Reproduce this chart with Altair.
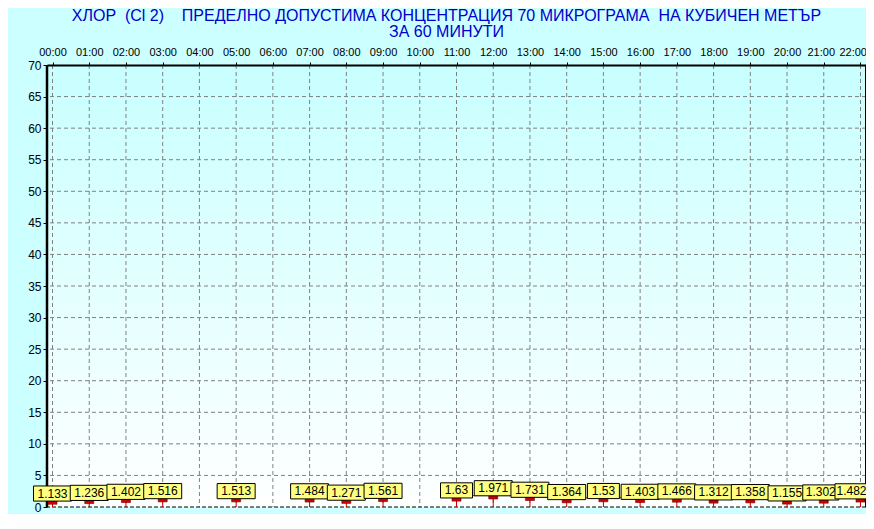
import altair as alt
import pandas as pd

hours = ["00:00", "01:00", "02:00", "03:00", "04:00", "05:00", "06:00", "07:00",
         "08:00", "09:00", "10:00", "11:00", "12:00", "13:00", "14:00", "15:00",
         "16:00", "17:00", "18:00", "19:00", "20:00", "21:00", "22:00"]
values = [1.133, 1.236, 1.402, 1.516, None, 1.513, None, 1.484,
          1.271, 1.561, None, 1.63, 1.971, 1.731, 1.364, 1.53,
          1.403, 1.466, 1.312, 1.358, 1.155, 1.302, 1.482]
yticks = [0, 5, 10, 15, 20, 25, 30, 35, 40, 45, 50, 55, 60, 65, 70]
title_lines = ["ХЛОР\u00a0 (Cl 2)\u00a0\u00a0\u00a0 ПРЕДЕЛНО ДОПУСТИМА КОНЦЕНТРАЦИЯ 70 МИКРОГРАМА\u00a0 НА КУБИЧЕН МЕТЪР",
               "ЗА 60 МИНУТИ"]

rows = []
seg = 0
for i, (h, v) in enumerate(zip(hours, values)):
    if v is None:
        seg += 1
        continue
    rows.append({"hour": h, "v": v, "label": str(v), "seg": seg, "n": len(str(v))})
df = pd.DataFrame(rows)
hours_df = pd.DataFrame({"hour": hours})
grid_df = pd.DataFrame({"v": [t for t in yticks if 0 < t < 70]})
zero_df = pd.DataFrame({"v": [0]})

last_hour = hours[-1]
prev_hour = hours[-2]
xscale = alt.Scale(type="point", domain=hours, padding=0.15)
yscale = alt.Scale(domain=[0, 70], nice=False, zero=True)
xaxis = alt.Axis(orient="top", labelAngle=0, labelFontSize=11, labelColor="black",
                 labelAlign={"condition": {"test": f"datum.label == '{last_hour}'", "value": "right"},
                             "value": "center"},
                 labelOffset={"condition": [{"test": f"datum.label == '{last_hour}'", "value": 6},
                                            {"test": f"datum.label == '{prev_hour}'", "value": -3}],
                              "value": 0},
                 tickSize=3, tickColor="black", domainColor="black", domainWidth=2,
                 grid=False, title=None, zindex=1, labelPadding=5, labelFont="Liberation Sans")
yaxis = alt.Axis(values=yticks, labelFontSize=12, labelColor="black", tickSize=4,
                 tickColor="black", domain=False, grid=False,
                 title=None, zindex=0, labelPadding=2, labelFont="Liberation Sans")
X = alt.X("hour:N", scale=xscale, axis=xaxis, sort=hours)
Y = alt.Y("v:Q", scale=yscale, axis=yaxis)

grad = alt.Gradient(gradient="linear",
                    stops=[alt.GradientStop(color="#C8FFFF", offset=0),
                           alt.GradientStop(color="#FFFFFF", offset=1)],
                    x1=0, x2=0, y1=0, y2=1)
bg = alt.Chart(pd.DataFrame({"a": [1]})).mark_rect(color=grad).encode(
    x=alt.value(0), x2=alt.value("width"), y=alt.value(0), y2=alt.value("height"))

vgrid = alt.Chart(hours_df).mark_rule(color="#808080", strokeDash=[4, 3], strokeWidth=1).encode(x=X)
hgrid = alt.Chart(grid_df).mark_rule(color="#808080", strokeDash=[4, 3], strokeWidth=1).encode(y=Y)
zline = alt.Chart(zero_df).mark_rule(color="black", strokeDash=[4, 2], strokeWidth=1).encode(y=Y)
rborder = alt.Chart(zero_df).mark_rule(color="black", strokeWidth=2).encode(x=alt.value("width"))
lborder = alt.Chart(zero_df).mark_rule(color="black", strokeWidth=2.5).encode(x=alt.value(0))

base = alt.Chart(df)
line = base.mark_line(color="#CC0000", strokeWidth=1).encode(x=X, y=Y, detail="seg:N")
stem = base.mark_rule(color="#CC0000", strokeWidth=1).encode(x=X, y=Y, y2=alt.datum(0))
bar = base.transform_calculate(lo="datum.v - 0.7").mark_bar(
    width=9, color="#D00000", stroke="#700000", strokeWidth=0.6).encode(
    x=X, y=alt.Y("lo:Q", scale=yscale, axis=yaxis), y2="v:Q")

box_enc = dict(x=X, y=alt.Y("b0:Q", scale=yscale, axis=yaxis), y2="b1:Q")
boxes = base.transform_calculate(b0="datum.v - 0.2", b1="datum.v + 2.2")
box_style = dict(color="#FFFF80", stroke="black", strokeWidth=1)
is_end = f"(datum.hour == '{last_hour}' || datum.hour == '{prev_hour}')"
box5 = boxes.transform_filter(f"datum.n >= 5 && !{is_end}").mark_bar(width=38, **box_style).encode(**box_enc)
box4 = boxes.transform_filter(f"datum.n < 5 && !{is_end}").mark_bar(width=32, **box_style).encode(**box_enc)
boxp = boxes.transform_filter(f"datum.hour == '{prev_hour}'").mark_bar(width=36, xOffset=-3, **box_style).encode(**box_enc)
boxl = boxes.transform_filter(f"datum.hour == '{last_hour}'").mark_bar(width=33, xOffset=-9, **box_style).encode(**box_enc)

texts = base.transform_calculate(t="datum.v + 1.0")
text_style = dict(fontSize=12, font="Liberation Sans", color="black", baseline="middle", align="center")
text_enc = dict(x=X, y=alt.Y("t:Q", scale=yscale, axis=yaxis), text="label:N")
text = texts.transform_filter(f"!{is_end}").mark_text(**text_style).encode(**text_enc)
textp = texts.transform_filter(f"datum.hour == '{prev_hour}'").mark_text(dx=-3, **text_style).encode(**text_enc)
textl = texts.transform_filter(f"datum.hour == '{last_hour}'").mark_text(dx=-9, **text_style).encode(**text_enc)

chart = alt.layer(bg, vgrid, hgrid, zline, rborder, lborder, line, stem, bar,
                  box5, box4, text, boxp, textp, boxl, textl).properties(
    width=819, height=442,
    padding={"left": 39, "top": 57, "right": 0, "bottom": 7},
    autosize=alt.AutoSizeParams(type="none"),
    background="#CCFFFF",
    title=alt.TitleParams(text=title_lines, color="#0000CC", fontSize=16, font="Liberation Sans",
                          fontWeight="normal", anchor="middle", dx=-10, offset=6, lineHeight=16),
).configure_view(stroke=None)

chart.save("out.html", embed_options={"renderer": "svg", "actions": False})
